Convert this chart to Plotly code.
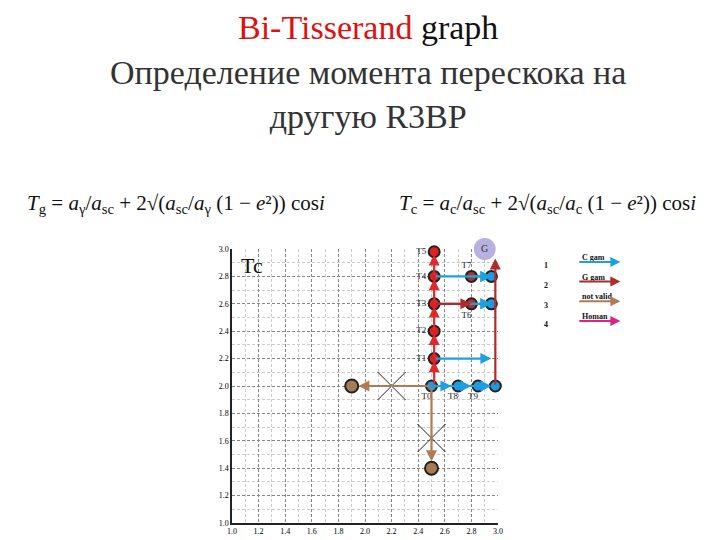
import plotly.graph_objects as go

# nodes of the transfer graph (Tg, Tc)
node_names = ["T0", "T1", "T2", "T3", "T4", "T5", "T6", "T7", "T8", "T9", "E0", "E3", "E4"]
node_tg = [2.5, 2.52, 2.52, 2.52, 2.52, 2.52, 2.8, 2.8, 2.7, 2.85, 2.98, 2.95, 2.95]
node_tc = [2.0, 2.2, 2.4, 2.6, 2.8, 2.98, 2.6, 2.8, 2.0, 2.0, 2.0, 2.6, 2.8]
node_col = ["#1e9be0", "#e02020", "#e02020", "#e02020", "#e02020", "#e02020", "#b03030",
            "#b03030", "#1e9be0", "#1e9be0", "#1e9be0", "#1e9be0", "#1e9be0"]
bad_tg = [1.9, 2.5]
bad_tc = [2.0, 1.4]
cross_tg = [2.2, 2.5]
cross_tc = [2.0, 1.62]

# arrows: (from_tg, from_tc, to_tg, to_tc, kind)
arr_x0 = [2.5, 2.6, 2.75, 2.52, 2.52, 2.52, 2.52, 2.52, 2.52, 2.52, 2.52, 2.8, 2.52, 2.8, 2.52, 2.5, 2.5, 2.98]
arr_y0 = [2.0, 2.0, 2.0, 2.0, 2.2, 2.2, 2.4, 2.6, 2.6, 2.8, 2.8, 2.8, 2.6, 2.6, 3.06, 2.0, 2.0, 2.0]
arr_x1 = [2.65, 2.8, 2.95, 2.52, 2.52, 2.95, 2.52, 2.52, 2.95, 2.52, 2.95, 2.95, 2.8, 2.95, 2.83, 1.95, 2.5, 2.98]
arr_y1 = [2.0, 2.0, 2.0, 2.18, 2.38, 2.2, 2.58, 2.78, 2.6, 2.96, 2.8, 2.8, 2.6, 2.6, 3.06, 2.0, 1.45, 2.93]
arr_kind = ["C", "C", "C", "R", "R", "C", "R", "R", "C", "R", "C", "C", "D", "C", "H", "N", "N", "D"]

kind_col = {"C": "#1ea0e0", "R": "#e02828", "D": "#b02a2a", "N": "#b07a55", "H": "#e0208a"}

labels = ["T5", "T4", "T3", "T2", "T1", "T0", "T7", "T6", "T8", "T9"]
lab_tg = [2.46, 2.46, 2.46, 2.46, 2.46, 2.5, 2.8, 2.8, 2.7, 2.85]
lab_tc = [2.98, 2.8, 2.6, 2.4, 2.2, 1.92, 2.88, 2.51, 1.92, 1.92]

legend_num = ["1", "2", "3", "4"]
legend_txt = ["C gam", "G gam", "not valid", "Homan"]
legend_kind = ["C", "D", "N", "H"]

serif = "Liberation Serif"
fig = go.Figure()
for x0, y0, x1, y1, k in zip(arr_x0, arr_y0, arr_x1, arr_y1, arr_kind):
    fig.add_annotation(x=x1, y=y1, ax=x0, ay=y0, xref="x", yref="y", axref="x", ayref="y",
                       showarrow=True, arrowhead=2, arrowwidth=2.2, arrowsize=1, arrowcolor=kind_col[k], text="")

fig.add_trace(go.Scatter(x=[2.9], y=[3.0], mode="markers+text", text=["G"], cliponaxis=False,
                         marker=dict(size=22, color="#b8b0e0"), textfont=dict(size=10, color="#333", family=serif)))
fig.add_trace(go.Scatter(x=node_tg, y=node_tc, mode="markers", cliponaxis=False,
                         marker=dict(size=11, color=node_col, line=dict(color="#222", width=2))))
fig.add_trace(go.Scatter(x=bad_tg, y=bad_tc, mode="markers", cliponaxis=False,
                         marker=dict(size=13, color="#a87a55", line=dict(color="#222", width=2))))
fig.add_trace(go.Scatter(x=cross_tg, y=cross_tc, mode="markers",
                         marker=dict(symbol="x-thin", size=28, line=dict(color="#222", width=1))))
fig.add_trace(go.Scatter(x=lab_tg, y=lab_tc, mode="text", text=labels, textposition="middle left",
                         textfont=dict(size=9, color="#222", family=serif), cliponaxis=False))

for i, (n, t, k) in enumerate(zip(legend_num, legend_txt, legend_kind)):
    yy = 0.993 - i * 0.072
    fig.add_annotation(x=1.195, y=yy - 0.03, xref="paper", yref="paper", text="<b>" + n + "</b>",
                       showarrow=False, font=dict(size=8, family=serif))
    fig.add_annotation(x=1.31, y=yy, xref="paper", yref="paper", text="<b>" + t + "</b>", xanchor="left",
                       showarrow=False, font=dict(size=8, family=serif))
    fig.add_annotation(x=1.46, y=yy - 0.04, ax=1.3, ay=yy - 0.04, xref="x domain", yref="y domain",
                       axref="x domain", ayref="y domain", text="", showarrow=True, arrowhead=2,
                       arrowwidth=2, arrowcolor=kind_col[k])

fig.add_annotation(x=0.511, y=1.885, xref="paper", yref="paper", yanchor="top", showarrow=False,
                   text="<span style='color:#e01010'>Bi-Tisserand</span> graph", font=dict(size=34, family=serif))
fig.add_annotation(x=0.511, y=1.72, xref="paper", yref="paper", yanchor="top", showarrow=False,
                   text="Определение момента перескока на<br>другую R3BP", font=dict(size=34, family=serif, color="#333"))
fig.add_annotation(x=-0.78, y=1.22, xref="paper", yref="paper", showarrow=False, xanchor="left",
                   text="<i>T</i><sub>g</sub> = <i>a</i><sub>γ</sub>/<i>a</i><sub>sc</sub> + 2√(<i>a</i><sub>sc</sub>/<i>a</i><sub>γ</sub> (1 − <i>e</i>²)) cos<i>i</i>",
                   font=dict(size=21, family=serif))
fig.add_annotation(x=0.62, y=1.22, xref="paper", yref="paper", showarrow=False, xanchor="left",
                   text="<i>T</i><sub>c</sub> = <i>a</i><sub>c</sub>/<i>a</i><sub>sc</sub> + 2√(<i>a</i><sub>sc</sub>/<i>a</i><sub>c</sub> (1 − <i>e</i>²)) cos<i>i</i>",
                   font=dict(size=21, family=serif))
fig.add_annotation(x=1.05, y=2.88, xref="x", yref="y", showarrow=False, xanchor="left", text="Tc",
                   font=dict(size=22, family=serif))
fig.add_annotation(x=3.06, y=1.05, xref="x", yref="y", showarrow=False, xanchor="left", text="Tg",
                   font=dict(size=26, family=serif))

grid = dict(showgrid=True, gridcolor="#888", griddash="3px,2px", gridwidth=0.6, showline=True,
            linecolor="#222", linewidth=1.5, zeroline=False,
            tickfont=dict(size=8, family=serif, color="black"), dtick=0.2,
            minor=dict(dtick=0.1, showgrid=True, gridcolor="#ccc", griddash="3px,2px"))
fig.update_xaxes(range=[1.0, 3.0], tickformat=".1f", **grid)
fig.update_yaxes(range=[1.0, 3.0], tickformat=".1f", **grid)
fig.update_layout(width=720, height=540, margin=dict(l=224, r=230, t=241, b=23),
                  font=dict(color="#111", family=serif),
                  plot_bgcolor="white", paper_bgcolor="white", showlegend=False)
fig.write_html("out.html")
